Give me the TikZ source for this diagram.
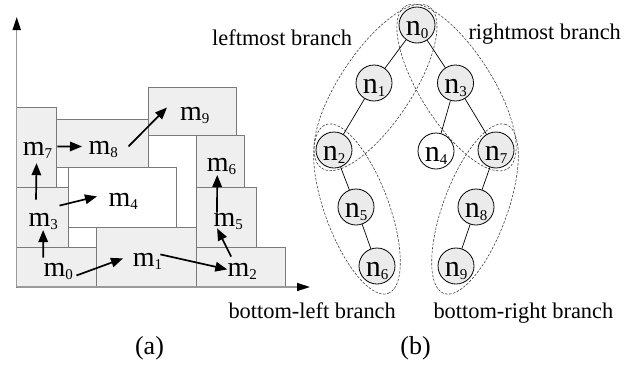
\documentclass[tikz,border=0pt]{standalone}
\usepackage{fontspec}
\setmainfont{Liberation Serif}
\usetikzlibrary{arrows.meta}

\definecolor{blockfill}{HTML}{EFEFEF}
\definecolor{blockline}{HTML}{7A7A7A}
\definecolor{axisline}{HTML}{9A9A9A}
\definecolor{nodefill}{HTML}{EBEBEB}

% letter with a lowered small index
\newcommand\lab[2]{#1\raisebox{-3pt}{\fontsize{15}{15}\selectfont #2}}

\begin{document}
\begin{tikzpicture}[x=1pt,y=-1pt,
  block/.style={fill=blockfill, draw=blockline, line width=0.9pt},
  freeblock/.style={fill=white, draw=blockline, line width=0.9pt},
  mlabel/.style={anchor=base west, inner sep=0pt, font=\fontsize{28}{32}\selectfont},
  move/.style={line width=1.7pt, -{Triangle[length=12pt,width=9.5pt]}},
  axis/.style={draw=axisline, line width=1.5pt, -{Triangle[length=13pt,width=8pt,color=black]}},
  tnode/.style={circle, draw, line width=0.8pt, fill=nodefill, minimum size=36pt,
    inner sep=0pt, font=\fontsize{30}{32}\selectfont, text height=22pt, text depth=0.6pt},
  tedge/.style={line width=0.7pt},
  group/.style={draw=black!75, line width=0.6pt, dash pattern=on 2.5pt off 1.5pt},
  caption/.style={font=\fontsize{22.4}{26}\selectfont, anchor=base west, inner sep=0pt},
  sublabel/.style={font=\fontsize{26}{30}\selectfont, anchor=base, inner sep=0pt}]

\useasboundingbox (0,0) rectangle (642,367);

% ---------- (a) placement of modules ----------
\draw[block]     (16.7,247) rectangle (96.7,287);   % m0
\draw[block]     (96.7,227) rectangle (196.7,287);  % m1
\draw[block]     (196.7,247) rectangle (285,287);   % m2
\draw[block]     (16.7,187) rectangle (68.3,247);   % m3
\draw[freeblock] (68.3,167) rectangle (176.7,227);  % m4
\draw[block]     (196.7,187) rectangle (256.7,247); % m5
\draw[block]     (196.7,135) rectangle (244.3,187); % m6
\draw[block]     (16.7,107) rectangle (56.7,187);   % m7
\draw[block]     (56.7,119) rectangle (148.3,167);  % m8
\draw[block]     (148.3,87) rectangle (236.7,135);  % m9

\coordinate (origin) at (16.7,287);
\coordinate (ytip) at (16.7,17);
\coordinate (xtip) at (310,287);
\draw[axis] (origin) -- (ytip);
\draw[axis] (origin) -- (xtip);

\node[mlabel] (m0) at (43.3,276)  {\lab{m}{0}};
\node[mlabel] (m1) at (132.7,266.7) {\lab{m}{1}};
\node[mlabel] (m2) at (227.3,276) {\lab{m}{2}};
\node[mlabel] (m3) at (28.3,226.7) {\lab{m}{3}};
\node[mlabel] (m4) at (108.3,206) {\lab{m}{4}};
\node[mlabel] (m5) at (213.3,226.7) {\lab{m}{5}};
\node[mlabel] (m6) at (206.7,171.7) {\lab{m}{6}};
\node[mlabel] (m7) at (22.7,155)  {\lab{m}{7}};
\node[mlabel] (m8) at (88.3,154)  {\lab{m}{8}};
\node[mlabel] (m9) at (180,120)   {\lab{m}{9}};

\draw[move] ([yshift=5pt]m0.north west) -- ([xshift=0pt]m3.south);
\draw[move] ([shift={(3.5pt,-4.5pt)}]m0.east) -- ([shift={(-9.7pt,3.2pt)}]m1.west);
\draw[move] ([shift={(-2pt,7.2pt)}]m1.east) -- ([yshift=1.5pt]m2.west);
\draw[move] ([shift={(-11pt,6pt)}]m2.north) -- ([shift={(-11pt,1.7pt)}]m5.south);
\draw[move] ([shift={(3.7pt,0.7pt)}]m5.north west) -- ([xshift=-4.3pt]m6.south);
\draw[move] ([shift={(1.5pt,7.7pt)}]m3.north east) -- ([shift={(-11.3pt,4.5pt)}]m4.west);
\draw[move] ([shift={(7.7pt,13.7pt)}]m3.north west) -- ([shift={(-1pt,-5pt)}]m7.south);
\draw[move] ([shift={(5pt,3.5pt)}]m7.east) -- ([shift={(-6.3pt,2.5pt)}]m8.west);
\draw[move] ([shift={(10.5pt,2.5pt)}]m8.east) -- ([shift={(-13pt,7.5pt)}]m9.west);

\node[sublabel] (capa) at (149.5,354) {(a)};

% ---------- (b) tree with its four branches ----------
\draw[group, rotate around={56.4:(375.5,87.5)}] (375.5,87.5) ellipse [x radius=97pt, y radius=36pt];
\draw[group, rotate around={-57.7:(456.5,87.5)}] (456.5,87.5) ellipse [x radius=96pt, y radius=36pt];
\draw[group, rotate around={-69.7:(357,209)}] (357,209) ellipse [x radius=90pt, y radius=32pt];
\draw[group, rotate around={69.7:(475,209)}] (475,209) ellipse [x radius=90pt, y radius=32pt];

\node[tnode] (n0) at (417,25)  {\lab{n}{0}};
\node[tnode] (n1) at (374,83)  {\lab{n}{1}};
\node[tnode] (n3) at (455.5,83) {\lab{n}{3}};
\node[tnode] (n2) at (334,150) {\lab{n}{2}};
\node[tnode, fill=white] (n4) at (436,151) {\lab{n}{4}};
\node[tnode] (n7) at (496,150) {\lab{n}{7}};
\node[tnode] (n5) at (356,207) {\lab{n}{5}};
\node[tnode] (n8) at (476,207) {\lab{n}{8}};
\node[tnode] (n6) at (377,266) {\lab{n}{6}};
\node[tnode] (n9) at (456,266) {\lab{n}{9}};

\draw[tedge] (n0) -- (n1);
\draw[tedge] (n0) -- (n3);
\draw[tedge] (n1) -- (n2);
\draw[tedge] (n3) -- (n4);
\draw[tedge] (n3) -- (n7);
\draw[tedge] (n2) -- (n5);
\draw[tedge] (n5) -- (n6);
\draw[tedge] (n7) -- (n8);
\draw[tedge] (n8) -- (n9);

\node[caption] (tl) at (212,45)      {leftmost branch};
\node[caption] (tr) at (468.3,39.5)  {rightmost branch};
\node[caption] (bl) at (228.3,318.3) {bottom-left branch};
\node[caption] (br) at (433.3,318.3) {bottom-right branch};

\node[sublabel] (capb) at (415.5,354) {(b)};
\end{tikzpicture}
\end{document}
